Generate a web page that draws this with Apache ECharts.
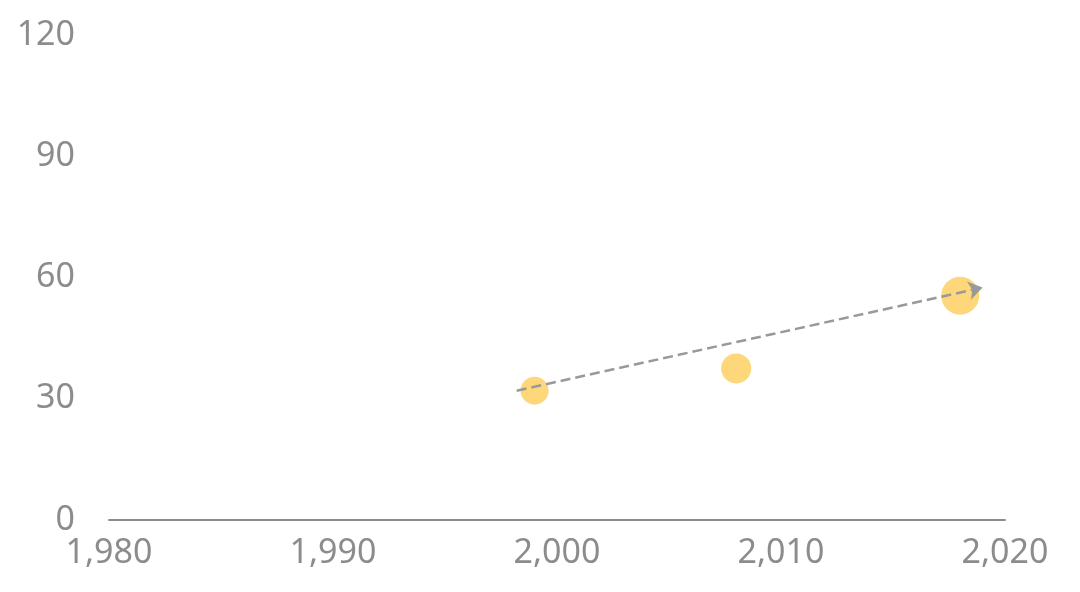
<!DOCTYPE html>
<html>
<head>
  <meta charset="utf-8">
  <script src="https://cdn.jsdelivr.net/npm/echarts@6/dist/echarts.min.js"></script>
</head>
<body style="margin:0">
  <div id="container" style="width:1080px;height:592px"></div>
  <script>
    // data
    var points = [[1999, 32, 28], [2008, 37.5, 30], [2018, 55.5, 38]];
    var trendStart = [1998.2, 32];
    var trendEnd = [2019, 57.5];

    var chart = echarts.init(document.getElementById('container'));
    var labelStyle = { color: '#8c8c8c', fontSize: 34, fontFamily: 'Noto Sans' };
    chart.setOption({
      animation: false,
      grid: { left: 109, right: 75, top: 35, bottom: 72 },
      xAxis: {
        type: 'value', min: 1980, max: 2020, interval: 10,
        axisLine: { lineStyle: { color: '#8c8c8c', width: 2 } },
        axisTick: { show: false },
        splitLine: { show: false },
        axisLabel: Object.assign({ margin: 16 }, labelStyle)
      },
      yAxis: {
        type: 'value', min: 0, max: 120, interval: 30,
        axisLine: { show: false },
        axisTick: { show: false },
        splitLine: { show: false },
        axisLabel: Object.assign({ margin: 34 }, labelStyle)
      },
      series: [{
        type: 'scatter',
        data: points,
        symbolSize: function (v) { return v[2]; },
        itemStyle: { color: '#fdd36a', opacity: 0.9 },
        markLine: {
          silent: true,
          symbol: ['none', 'arrow'],
          symbolSize: 14,
          label: { show: false },
          lineStyle: { color: '#999', type: 'dashed', width: 2.5, curveness: 0.15 },
          data: [[{ coord: trendStart }, { coord: trendEnd }]]
        }
      }]
    });
  </script>
</body>
</html>
